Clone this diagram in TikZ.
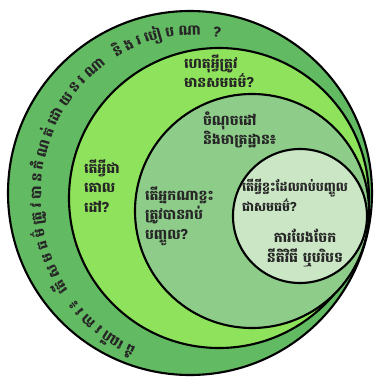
\documentclass[tikz,border=0pt]{standalone}
\usepackage{fontspec}
\usepackage{xcolor}
\newfontfamily\khmer[Script=Khmer]{Battambang}
\usetikzlibrary{decorations.text}
\definecolor{ringout}{RGB}{98,186,98}
\definecolor{ringgoal}{RGB}{142,226,92}
\definecolor{ringpar}{RGB}{142,204,138}
\definecolor{ringtgt}{RGB}{202,230,196}

\begin{document}
\begin{tikzpicture}[line width=1.5pt,
  lbl/.style={align=left, anchor=west, inner sep=0pt, text=black!85,
    font=\khmer\bfseries\fontsize{10}{14}\selectfont}]
\useasboundingbox (-4.7875,-4.7875) rectangle (4.7875,4.7875);
\filldraw[fill=ringout] (-0.0375,-0.0375) circle[radius=4.55];
\filldraw[fill=ringgoal] (0.6875,-0.1625) circle[radius=3.75];
\filldraw[fill=ringpar] (1.5125,-0.4875) circle[radius=2.925];
\filldraw[fill=ringtgt] (2.7125,-0.6125) circle[radius=1.675];

\path[decorate, decoration={text along path, text align=fit to path,
    text color=black!85, text={|\khmer\bfseries\fontsize{10}{12}\selectfont|{ដំ}{ណើ}{រ}{កា}{រ}{៖} {តើ}{ស}{ម}{ធ}{ម៌}{ត្រូ}{វ}{បា}{ន}{កំ}{ណ}{ត់}{ដោ}{យ}{ន}{រ}{ណា} {និ}{ង}{រ}{បៀ}{ប}{ណា} {?}}}]
  (0.0375,-0.1375) ++(248:3.8 and 4.05) arc[start angle=248, end angle=80, x radius=3.8, y radius=4.05];

\node[lbl] (why) at (-0.2125,3.0125) {ហេតុអ្វីត្រូវ\\មានសមធម៌?};
\node[lbl] (goal) at (-2.7125,0.1375) {តើអ្វីជា\\គោល\\ដៅ?};
\node[lbl] (scale) at (0.2625,1.5375) {ចំណុចដៅ\\និងមាត្រដ្ឋាន៖};
\node[lbl] (who) at (-1.1875,-0.6125) {តើអ្នកណាខ្លះ\\ត្រូវបានរាប់\\បញ្ចូល?};
\node[lbl, font=\khmer\bfseries\fontsize{9}{14}\selectfont] (what) at (1.2375,-0.0875) {តើអ្វីខ្លះដែលរាប់បញ្ចូល\\ជាសមធម៌?};
\node[lbl, align=center, anchor=center] (dims) at (2.8375,-1.4125) {ការបែងចែក\\នីតិវិធី ឬបរិបទ};
\end{tikzpicture}
\end{document}
